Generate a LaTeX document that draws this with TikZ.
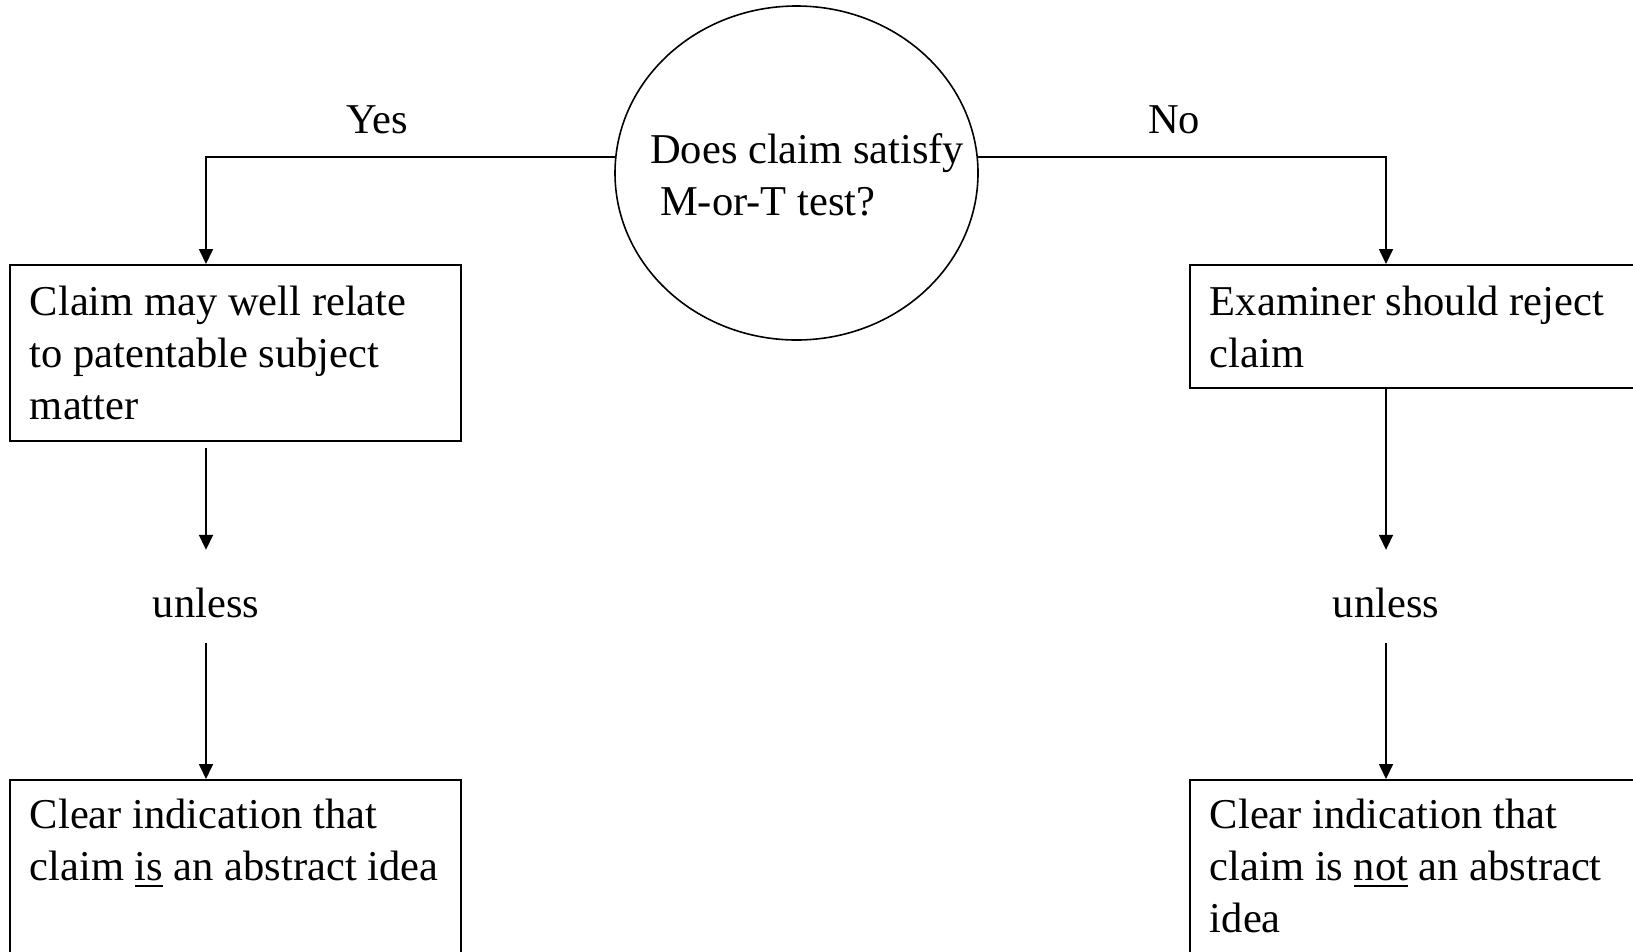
\documentclass[tikz,border=0pt]{standalone}
\usepackage{fontspec}
\setmainfont{Liberation Serif}
\usetikzlibrary{arrows.meta,shapes.geometric}
\newcommand\myul[1]{\setbox0=\hbox{#1}\rlap{\rule[-6.5pt]{\wd0}{2.6pt}}\box0\relax}
\begin{document}
\begin{tikzpicture}[x=1pt,y=-1pt,
  every node/.style={font=\fontsize{42.5}{52}\selectfont},
  box/.style={draw, line width=1.9pt, rectangle, anchor=north west, inner xsep=20pt, inner ysep=0pt, text width=411pt, align=left, execute at begin node={\spaceskip=0pt\xspaceskip=0pt\relax}},
  decision/.style={draw, ellipse, line width=1.6pt, minimum width=363pt, minimum height=334pt, inner sep=0pt},
  conn/.style={line width=1.7pt, -{Triangle[length=15pt,width=14pt]}},
  lbl/.style={anchor=base, inner sep=0pt},
  unl/.style={anchor=base, inner sep=0pt, text height=29pt, text depth=0pt}]
\useasboundingbox (0,0) rectangle (1633,951);
% decision
\node[decision] (q) at (796.5,173) {};
\node[anchor=north west, inner sep=0pt, text width=330pt, align=left, text height=29pt, execute at begin node={\spaceskip=0pt\xspaceskip=0pt\relax}] (qt) at (650,134) {Does claim satisfy\\\hspace{10pt}M-or-T test?};
% labels
\node[lbl] (yes) at (377,133) {Yes};
\node[lbl] (no) at (1174,133) {No};
% boxes
\node[box, text height=51pt, text depth=125pt] (b1) at (9,264) {Claim may well relate\\to patentable subject\\matter};
\node[box, text height=51pt, text depth=72pt] (b2) at (1189,264) {Examiner should reject\\claim};
\node[box, text height=49pt, text depth=200pt] (b3) at (9,779) {Clear indication that\\claim \myul{is} an abstract idea};
\node[box, text height=49pt, text depth=200pt] (b4) at (1189,779) {Clear indication that\\claim is \myul{not} an abstract\\idea};
% unless
\node[unl] (u1) at (206,617) {unless};
\node[unl] (u2) at (1386,617) {unless};
% connectors
\draw[conn] (q.175) -| (u1 |- b1.north);
\draw[conn] (q.5) -| (u2 |- b2.north);
\draw[conn, shorten <=6pt, shorten >=38pt] (u1 |- b1.south) -- (u1.north);
\draw[conn, shorten <=26pt] (u1.south) -- (u1 |- b3.north);
\draw[conn, shorten >=38pt] (u2 |- b2.south) -- (u2.north);
\draw[conn, shorten <=26pt] (u2.south) -- (u2 |- b4.north);
\end{tikzpicture}
\end{document}
